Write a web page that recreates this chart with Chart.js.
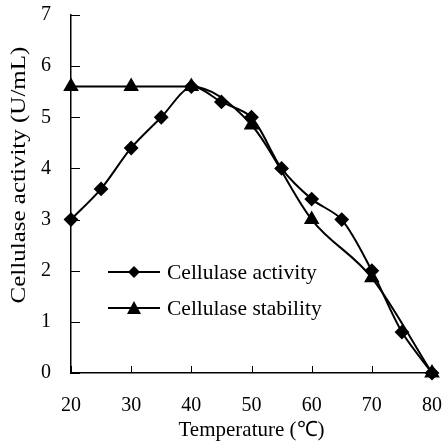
<!DOCTYPE html>
<html>
<head>
<meta charset="utf-8">
<script src="https://cdn.jsdelivr.net/npm/chart.js@4"></script>
<style>
  html, body { margin: 0; padding: 0; background: #fff; }
  #wrap { width: 443px; height: 441px; }
</style>
</head>
<body>
<div id="wrap"><canvas id="chart"></canvas></div>
<script>
const temps = [20, 25, 30, 35, 40, 45, 50, 55, 60, 65, 70, 75, 80];
const activity = [3.0, 3.6, 4.4, 5.0, 5.6, 5.3, 5.0, 4.0, 3.4, 3.0, 2.0, 0.8, 0.0];
const stabilityTemps = [20, 30, 40, 50, 60, 70, 80];
const stability = [5.6, 5.6, 5.6, 4.85, 3.0, 1.86, 0.0];
const seriesNames = ['Cellulase activity', 'Cellulase stability'];
const xTitle = 'Temperature (\u2103)';
const yTitle = 'Cellulase activity (U/mL)';

const FONT = '"Liberation Serif", "Times New Roman", serif';

const toPoints = (xs, ys) => xs.map((x, i) => ({ x: x, y: ys[i] }));

// inward tick marks, y title and legend inside the plot
const extras = {
  id: 'extras',
  afterDraw(chart) {
    const ctx = chart.ctx;
    const xs = chart.scales.x, ys = chart.scales.y;
    const area = chart.chartArea;
    ctx.save();
    ctx.strokeStyle = '#000';
    ctx.lineWidth = 1;
    xs.ticks.forEach(t => {
      const px = Math.round(xs.getPixelForValue(t.value)) + 0.5;
      ctx.beginPath();
      ctx.moveTo(px, area.bottom);
      ctx.lineTo(px, area.bottom - 7);
      ctx.stroke();
    });
    ys.ticks.forEach(t => {
      const py = Math.round(ys.getPixelForValue(t.value)) + 0.5;
      ctx.beginPath();
      ctx.moveTo(area.left, py);
      ctx.lineTo(area.left + 9, py);
      ctx.stroke();
    });

    // y axis title (a bit stretched like the original)
    ctx.save();
    ctx.translate(19, 175);
    ctx.rotate(-Math.PI / 2);
    ctx.scale(1.19, 1);
    ctx.font = '21px ' + FONT;
    ctx.textAlign = 'center';
    ctx.textBaseline = 'middle';
    ctx.fillStyle = '#000';
    ctx.fillText(yTitle, 0, 0);
    ctx.restore();

    // legend
    const lx = area.left + 37, ly = [272, 308];
    ctx.font = '21.5px ' + FONT;
    ctx.textBaseline = 'middle';
    ctx.fillStyle = '#000';
    chart.data.datasets.forEach((ds, i) => {
      const y = ly[i];
      ctx.lineWidth = 2;
      ctx.beginPath();
      ctx.moveTo(lx, y);
      ctx.lineTo(lx + 52, y);
      ctx.stroke();
      const cx = lx + 26;
      ctx.beginPath();
      if (ds.pointStyle === 'rectRot') {
        ctx.moveTo(cx, y - 6); ctx.lineTo(cx + 6, y); ctx.lineTo(cx, y + 6); ctx.lineTo(cx - 6, y);
      } else {
        ctx.moveTo(cx, y - 7); ctx.lineTo(cx + 7, y + 6); ctx.lineTo(cx - 7, y + 6);
      }
      ctx.closePath();
      ctx.fill();
      ctx.fillText(ds.label, lx + 59, y + 1);
    });
    ctx.restore();
  }
};

new Chart(document.getElementById('chart'), {
  type: 'line',
  data: {
    datasets: [
      {
        label: seriesNames[0],
        data: toPoints(temps, activity),
        borderColor: '#000',
        backgroundColor: '#000',
        borderWidth: 2,
        pointStyle: 'rectRot',
        pointRadius: 6,
        tension: 0.3,
        clip: false
      },
      {
        label: seriesNames[1],
        data: toPoints(stabilityTemps, stability),
        borderColor: '#000',
        backgroundColor: '#000',
        borderWidth: 2,
        pointStyle: 'triangle',
        pointRadius: 7,
        cubicInterpolationMode: 'monotone',
        clip: false
      }
    ]
  },
  options: {
    responsive: true,
    maintainAspectRatio: false,
    animation: false,
    layout: { padding: { top: 15, right: 11, left: 0, bottom: 0 } },
    plugins: { legend: { display: false }, tooltip: { enabled: false } },
    scales: {
      x: {
        type: 'linear',
        min: 20, max: 80,
        grid: { display: false },
        border: { display: true, color: '#000', width: 1.5 },
        ticks: { stepSize: 10, color: '#000', padding: 13, font: { family: FONT, size: 20 } },
        title: { display: true, text: xTitle, color: '#000', padding: { top: 0, bottom: -2 }, font: { family: FONT, size: 21 } },
        afterFit(scale) {
          scale.height = 68;
          scale.paddingLeft = 0;
          scale.paddingRight = 0;
        }
      },
      y: {
        min: 0, max: 7,
        grid: { display: false },
        border: { display: true, color: '#000', width: 1.5 },
        ticks: { stepSize: 1, color: '#000', padding: 12, font: { family: FONT, size: 20 } },
        title: { display: false },
        afterFit(scale) {
          scale.width = 71;
          scale.paddingTop = 0;
          scale.paddingBottom = 0;
        }
      }
    }
  },
  plugins: [extras]
});
</script>
</body>
</html>
